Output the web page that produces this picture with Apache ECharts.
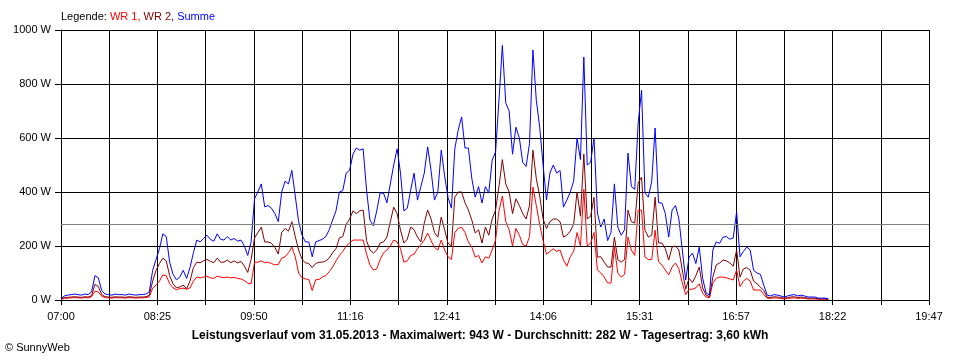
<!DOCTYPE html>
<html>
<head>
<meta charset="utf-8">
<script src="https://cdn.jsdelivr.net/npm/echarts@6/dist/echarts.min.js"></script>
<style>
html,body{margin:0;padding:0;background:#fff;}
#chart{width:960px;height:360px;}
</style>
</head>
<body>
<div id="chart"></div>
<script>
// x-axis tick labels (every second grid line carries a label)
const xLabels = ['07:00','08:25','09:50','11:16','12:41','14:06','15:31','16:57','18:22','19:47'];
const axisStartMin = 420;   // 07:00
const axisEndMin = 1187;    // 19:47
const gridSteps = 18;
const sampleStartMin = 420; // first sample 07:00
const sampleStepMin = 3;    // sample spacing in minutes

const averageW = 282;

// WR 1 (red)
const wr1 = [
2,6,7,8,9,8,7,9,8,12,33,30,14,9,8,7,9,8,8,7,9,8,7,8,8,9,12,44,55,70,
93,90,60,45,38,42,44,40,45,70,85,82,85,88,82,80,88,85,83,85,82,84,80,78,72,63,60,140,140,145,
138,140,135,130,132,155,160,175,196,160,100,82,78,76,35,75,76,85,90,105,122,145,165,180,200,211,222,222,222,222,
170,130,111,115,150,175,185,200,222,215,190,140,145,165,170,190,205,222,248,220,195,185,222,185,160,150,250,265,270,250,
215,196,159,165,137,160,155,185,222,330,385,290,260,200,265,240,205,200,235,418,350,280,220,170,180,190,180,185,148,125,
160,180,250,200,410,200,210,250,111,100,85,63,63,196,100,85,95,233,185,165,333,333,159,150,150,259,141,130,111,93,
122,137,115,63,20,40,40,45,60,25,11,8,63,80,85,85,82,78,74,111,50,70,80,70,37,37,37,20,7,6,
8,7,6,4,6,7,8,6,7,6,4,4,4,3,3,3,2
];
// WR 2 (dark red)
const wr2 = [
3,9,10,11,12,11,10,12,11,16,58,50,20,12,11,10,12,11,11,10,12,11,10,11,11,12,17,70,110,135,
155,145,90,60,45,48,55,42,70,120,140,138,145,150,143,138,155,140,140,148,138,145,137,143,126,102,150,230,250,270,
215,215,210,195,170,250,265,255,290,235,185,150,138,135,120,135,140,140,145,155,175,190,230,235,280,300,330,320,330,333,
220,185,174,185,211,215,233,290,344,320,259,211,225,270,260,233,215,285,333,300,250,233,307,260,210,200,381,400,400,360,
333,296,248,260,211,270,240,300,333,420,520,430,400,320,375,350,320,300,350,555,450,385,300,265,290,300,300,290,233,240,
255,280,400,310,540,300,310,380,159,160,140,122,122,233,150,140,150,333,290,285,433,455,259,233,240,381,211,211,190,148,
196,200,185,111,40,80,65,90,122,45,18,12,85,130,137,148,145,137,125,185,85,115,120,110,70,60,48,35,10,9,
12,11,9,7,9,11,12,9,11,9,7,7,7,4,4,4,3
];
// Summe (blue)
const summe = [
5,15,18,20,22,20,18,22,20,30,90,82,35,22,20,18,22,20,20,18,22,20,18,20,20,22,30,110,150,190,
245,235,140,95,75,85,110,80,120,175,222,215,228,240,225,218,245,225,222,235,222,228,218,222,200,165,215,375,400,430,
345,350,340,320,290,400,440,430,480,385,290,240,215,215,160,215,220,225,235,260,296,330,400,405,470,480,540,563,555,560,
407,296,275,330,396,396,360,430,500,560,470,330,340,407,470,370,420,470,567,480,370,400,555,460,380,340,560,630,678,563,
563,450,381,420,359,420,396,518,548,740,943,730,700,540,640,600,510,495,580,926,740,640,500,370,470,500,470,480,344,370,
400,440,600,520,900,500,510,600,322,270,300,220,250,430,270,240,260,544,420,410,655,777,396,381,440,637,360,359,320,233,
333,350,300,185,74,159,174,135,196,80,26,18,185,215,210,233,235,225,230,326,160,180,196,185,110,100,95,55,18,15,
20,18,15,11,15,18,20,15,18,15,11,11,11,7,7,7,5
];

const FONT = "'Liberation Sans', Arial, sans-serif";

function toX(idx){
  const m = sampleStartMin + idx * sampleStepMin;
  return (m - axisStartMin) / (axisEndMin - axisStartMin) * gridSteps;
}
function pairs(arr){ return arr.map((v,i)=>[toX(i), v]); }

const chart = echarts.init(document.getElementById('chart'), null, {renderer:'canvas'});
const option = {
  animation:false,
  backgroundColor:'#ffffff',
  textStyle:{fontFamily:FONT},
  title:[
    {
      left:61, top:11, padding:0,
      text:'Legende: {r|WR 1,} {d|WR 2,} {b|Summe}',
      textStyle:{fontSize:11, fontWeight:'normal', color:'#000', fontFamily:FONT,
        rich:{
          r:{color:'#ff0000', fontSize:11, fontFamily:FONT},
          d:{color:'#800000', fontSize:11, fontFamily:FONT},
          b:{color:'#0000ff', fontSize:11, fontFamily:FONT}
        }}
    },
    {
      left:'center', top:330, padding:0,
      text:'Leistungsverlauf vom 31.05.2013 - Maximalwert: 943 W - Durchschnitt: 282 W - Tagesertrag: 3,60 kWh',
      textStyle:{fontSize:12, fontWeight:'bold', color:'#000', fontFamily:FONT}
    },
    {
      left:5, top:342, padding:0,
      text:'© SunnyWeb',
      textStyle:{fontSize:11, fontWeight:'normal', color:'#000', fontFamily:FONT}
    }
  ],
  grid:{left:61, right:31, top:30, bottom:60, containLabel:false},
  xAxis:{
    type:'value', min:0, max:gridSteps, interval:1,
    axisLine:{show:true, lineStyle:{color:'#000', width:1}},
    axisTick:{show:true, length:5, lineStyle:{color:'#000', width:1}},
    splitLine:{show:true, lineStyle:{color:'#000', width:1}},
    axisLabel:{
      color:'#000', fontSize:11, fontFamily:FONT, margin:11,
      showMinLabel:true, showMaxLabel:true,
      formatter:function(v){
        const i = Math.round(v);
        return (i % 2 === 0) ? xLabels[i/2] : '';
      }
    }
  },
  yAxis:{
    type:'value', min:0, max:1000, interval:200,
    axisLine:{show:true, lineStyle:{color:'#000', width:1}},
    axisTick:{show:true, length:6, lineStyle:{color:'#000', width:1}},
    splitLine:{show:true, lineStyle:{color:'#000', width:1}},
    axisLabel:{color:'#000', fontSize:11, fontFamily:FONT, margin:10,
      formatter:function(v){ return String(Math.round(v)) + ' W'; }}
  },
  series:[
    {
      name:'WR 1', type:'line', data:pairs(wr1), showSymbol:false, symbol:'none',
      lineStyle:{color:'#ff0000', width:1}, itemStyle:{color:'#ff0000'}, z:2
    },
    {
      name:'WR 2', type:'line', data:pairs(wr2), showSymbol:false, symbol:'none',
      lineStyle:{color:'#800000', width:1}, itemStyle:{color:'#800000'}, z:3
    },
    {
      name:'Summe', type:'line', data:pairs(summe), showSymbol:false, symbol:'none',
      lineStyle:{color:'#0000ff', width:1}, itemStyle:{color:'#0000ff'}, z:4,
      markLine:{
        silent:true, symbol:['none','none'], label:{show:false},
        lineStyle:{color:'#808080', type:'solid', width:1},
        data:[{yAxis:averageW}]
      }
    }
  ]
};
chart.setOption(option);
</script>
</body>
</html>
